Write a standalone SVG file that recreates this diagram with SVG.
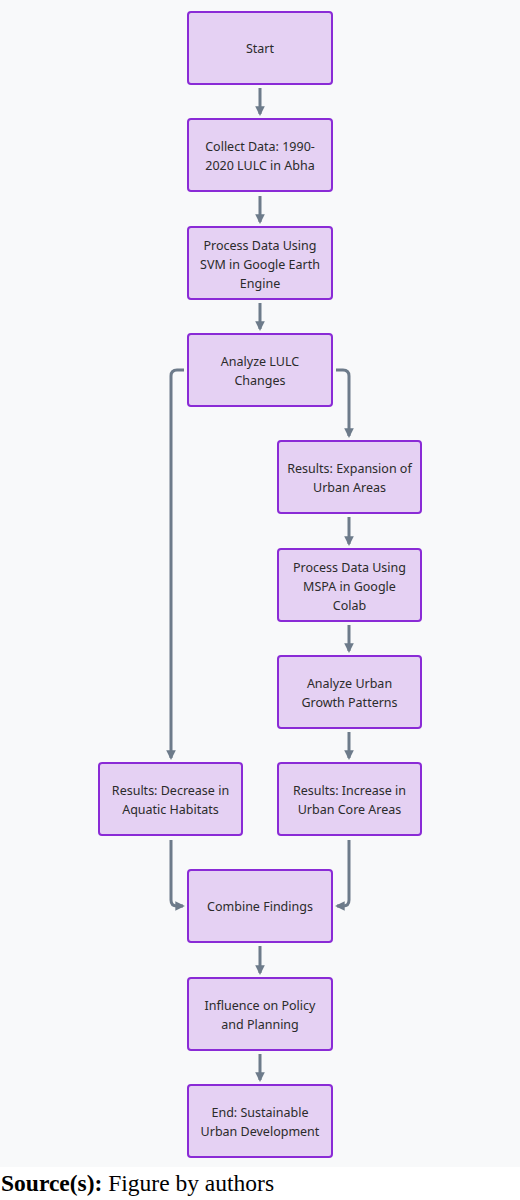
<svg xmlns="http://www.w3.org/2000/svg" width="520" height="1200" viewBox="0 0 520 1200">
<style>
.box{fill:#e5d1f3;stroke:#8a2bd6;stroke-width:2}
.lbl{font-family:"Noto Sans","DejaVu Sans",sans-serif;font-size:12.5px;fill:#2b2b2b;text-anchor:middle}
.edge{fill:none;stroke:#6d7b8a;stroke-width:3}
.src{font-family:"Liberation Serif","Times New Roman",serif;font-size:23.5px;fill:#000}
</style>
<defs>
<marker id="ah" viewBox="0 0 10 10" refX="8" refY="5" markerWidth="3.2" markerHeight="3.2" orient="auto" markerUnits="strokeWidth">
<path d="M0,0 L10,5 L0,10 Z" fill="#6d7b8a"/>
</marker>
</defs>
<rect x="0" y="0" width="520" height="1167" fill="#f8f9fa"/>
<rect x="0" y="1167" width="520" height="33" fill="#ffffff"/>
<g id="connectors">
<path class="edge" d="M260,88 V114" marker-end="url(#ah)"/>
<path class="edge" d="M260,196 V222" marker-end="url(#ah)"/>
<path class="edge" d="M260,303 V329" marker-end="url(#ah)"/>
<path class="edge" d="M184,370 H177 Q171,370 171,376 V758" marker-end="url(#ah)"/>
<path class="edge" d="M336,370 H343 Q349,370 349,376 V436" marker-end="url(#ah)"/>
<path class="edge" d="M349,517 V544" marker-end="url(#ah)"/>
<path class="edge" d="M349,625 V651" marker-end="url(#ah)"/>
<path class="edge" d="M349,732 V758" marker-end="url(#ah)"/>
<path class="edge" d="M171,840 V900 Q171,906 177,906 H183" marker-end="url(#ah)"/>
<path class="edge" d="M349,840 V900 Q349,906 343,906 H337" marker-end="url(#ah)"/>
<path class="edge" d="M260,946 V973" marker-end="url(#ah)"/>
<path class="edge" d="M260,1054 V1080" marker-end="url(#ah)"/>
</g>
<g id="start"><rect class="box" x="188" y="12" width="144" height="72" rx="3"/><text class="lbl" x="260" y="53">Start</text></g>
<g id="collect"><rect class="box" x="188" y="119" width="144" height="72" rx="3"/><text class="lbl" x="260" y="151">Collect Data: 1990-</text><text class="lbl" x="260" y="170">2020 LULC in Abha</text></g>
<g id="process-svm"><rect class="box" x="188" y="227" width="144" height="72" rx="3"/><text class="lbl" x="260" y="250">Process Data Using</text><text class="lbl" x="260" y="269">SVM in Google Earth</text><text class="lbl" x="260" y="288">Engine</text></g>
<g id="analyze-lulc"><rect class="box" x="188" y="334" width="144" height="72" rx="3"/><text class="lbl" x="260" y="366">Analyze LULC</text><text class="lbl" x="260" y="385">Changes</text></g>
<g id="expansion"><rect class="box" x="278" y="441" width="143" height="72" rx="3"/><text class="lbl" x="349.5" y="473">Results: Expansion of</text><text class="lbl" x="349.5" y="492">Urban Areas</text></g>
<g id="process-mspa"><rect class="box" x="278" y="549" width="143" height="72" rx="3"/><text class="lbl" x="349.5" y="572">Process Data Using</text><text class="lbl" x="349.5" y="591">MSPA in Google</text><text class="lbl" x="349.5" y="610">Colab</text></g>
<g id="analyze-urban"><rect class="box" x="278" y="656" width="143" height="72" rx="3"/><text class="lbl" x="349.5" y="688">Analyze Urban</text><text class="lbl" x="349.5" y="707">Growth Patterns</text></g>
<g id="decrease"><rect class="box" x="99" y="763" width="143" height="72" rx="3"/><text class="lbl" x="170.5" y="795">Results: Decrease in</text><text class="lbl" x="170.5" y="814">Aquatic Habitats</text></g>
<g id="increase"><rect class="box" x="278" y="763" width="143" height="72" rx="3"/><text class="lbl" x="349.5" y="795">Results: Increase in</text><text class="lbl" x="349.5" y="814">Urban Core Areas</text></g>
<g id="combine"><rect class="box" x="188" y="870" width="144" height="72" rx="3"/><text class="lbl" x="260" y="911">Combine Findings</text></g>
<g id="influence"><rect class="box" x="188" y="978" width="144" height="72" rx="3"/><text class="lbl" x="260" y="1010">Influence on Policy</text><text class="lbl" x="260" y="1029">and Planning</text></g>
<g id="end"><rect class="box" x="188" y="1085" width="144" height="72" rx="3"/><text class="lbl" x="260" y="1117">End: Sustainable</text><text class="lbl" x="260" y="1136">Urban Development</text></g>
<text class="src" x="1" y="1191"><tspan font-weight="bold">Source(s):</tspan> Figure by authors</text>
</svg>
